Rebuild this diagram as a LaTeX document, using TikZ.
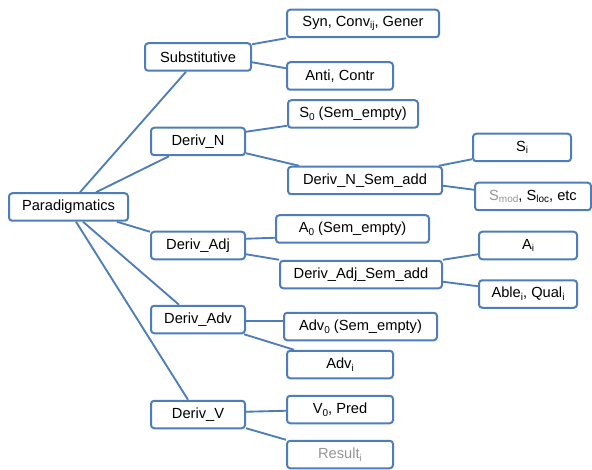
\documentclass[tikz,border=0pt]{standalone}
\usepackage{fontspec}
\setmainfont{Liberation Sans}
\usetikzlibrary{calc}
\definecolor{boxblue}{RGB}{79,125,185}
\definecolor{lightgrey}{RGB}{150,150,150}
\newcommand{\lowidx}[1]{\raisebox{-0.35ex}{\fontsize{7.5}{8}\selectfont #1}}
\begin{document}
\begin{tikzpicture}[x=0.75pt,y=-0.75pt,
  bx/.style={draw=boxblue,line width=1.5pt,rounded corners=2.4pt,fill=white,
    inner sep=0pt,minimum height=27.5*0.75pt,font=\fontsize{11}{13}\selectfont,text=black},
  link/.style={draw=boxblue,line width=1.4pt}]
\useasboundingbox (0,0) rectangle (592,470);
% connectors first, boxes drawn on top
\coordinate (dummy) at (0,0);
% nodes
\node[bx,minimum width=119*0.75pt] (P) at (68.5,207) {Paradigmatics};
\node[bx,minimum width=106*0.75pt] (Sub) at (198,57) {Substitutive};
\node[bx,minimum width=152*0.75pt] (Syn) at (363,23.5) {Syn, Conv\lowidx{ij}, Gener};
\node[bx,minimum width=106*0.75pt] (Anti) at (340,76) {Anti, Contr};
\node[bx,minimum width=130*0.75pt] (S0) at (353,114) {S\lowidx{0} (Sem\_empty)};
\node[bx,minimum width=94*0.75pt] (DN) at (198,141.5) {Deriv\_N};
\node[bx,minimum width=154*0.75pt] (DNSA) at (365,180.5) {Deriv\_N\_Sem\_add};
\node[bx,minimum width=98*0.75pt] (Si) at (522,147.5) {S\lowidx{i}};
\node[bx,minimum width=116*0.75pt] (Smod) at (533,196.5) {\textcolor{lightgrey}{S\lowidx{mod}}, S\lowidx{loc}, etc};
\node[bx,minimum width=94*0.75pt] (DAdj) at (198,245.5) {Deriv\_Adj};
\node[bx,minimum width=153*0.75pt] (A0) at (352.5,229) {A\lowidx{0} (Sem\_empty)};
\node[bx,minimum width=162*0.75pt] (DASA) at (361,274.5) {Deriv\_Adj\_Sem\_add};
\node[bx,minimum width=98*0.75pt] (Ai) at (528,245.5) {A\lowidx{i}};
\node[bx,minimum width=98*0.75pt] (Able) at (528,294) {Able\lowidx{i}, Qual\lowidx{i}};
\node[bx,minimum width=94*0.75pt] (DAdv) at (198,319.5) {Deriv\_Adv};
\node[bx,minimum width=153*0.75pt] (Adv0) at (360.5,326.5) {Adv\lowidx{0} (Sem\_empty)};
\node[bx,minimum width=106*0.75pt] (Advi) at (340,364.5) {Adv\lowidx{i}};
\node[bx,minimum width=94*0.75pt] (DV) at (198,414.5) {Deriv\_V};
\node[bx,minimum width=106*0.75pt] (V0) at (340,409.5) {V\lowidx{0}, Pred};
\node[bx,minimum width=106*0.75pt,text=lightgrey] (Res) at (340,454.5) {Result\lowidx{i}};
% connectors
\draw[link] ($(P.north west)+(72,0)$) -- ($(Sub.south west)+(42,0)$);
\draw[link] ($(P.north west)+(88,0)$) -- ($(DN.south west)+(19,0)$);
\draw[link] ($(P.south west)+(109,0)$) -- ($(DAdj.north west)+(0,1)$);
\draw[link] ($(P.south west)+(75,0)$) -- ($(DAdv.north west)+(29,0)$);
\draw[link] ($(P.south west)+(68,0)$) -- ($(DV.north west)+(38,0)$);
\draw[link] ($(Sub.north east)+(0,2)$) -- ($(Syn.south west)+(0,0)$);
\draw[link] ($(Sub.north east)+(0,20)$) -- ($(Anti.north west)+(0,7)$);
\draw[link] ($(DN.north east)+(0,5)$) -- ($(S0.south west)+(0,-3)$);
\draw[link] ($(DN.south east)+(0,-3)$) -- ($(DNSA.north west)+(12,0)$);
\draw[link] ($(DNSA.north east)+(-4,0)$) -- ($(Si.south west)+(0,-3)$);
\draw[link] ($(DNSA.north east)+(0,20)$) -- ($(Smod.north west)+(0,8)$);
\draw[link] ($(DAdj.north east)+(0,8)$) -- ($(A0.south west)+(0,-6)$);
\draw[link] ($(DAdj.south east)+(0,-6)$) -- ($(DASA.north west)+(0,0)$);
\draw[link] ($(DASA.north east)+(0,0)$) -- ($(Ai.south west)+(0,-6)$);
\draw[link] ($(DASA.north east)+(0,22)$) -- ($(Able.north west)+(0,7)$);
\draw[link] ($(DAdv.north east)+(0,16)$) -- ($(Adv0.north west)+(0,9)$);
\draw[link] ($(DAdv.south east)+(-2,0)$) -- ($(Advi.north west)+(8,0)$);
\draw[link] ($(DV.north east)+(0,12)$) -- ($(V0.north west)+(0,16)$);
\draw[link] ($(DV.south east)+(0,-1)$) -- ($(Res.north west)+(0,0)$);
\end{tikzpicture}
\end{document}
